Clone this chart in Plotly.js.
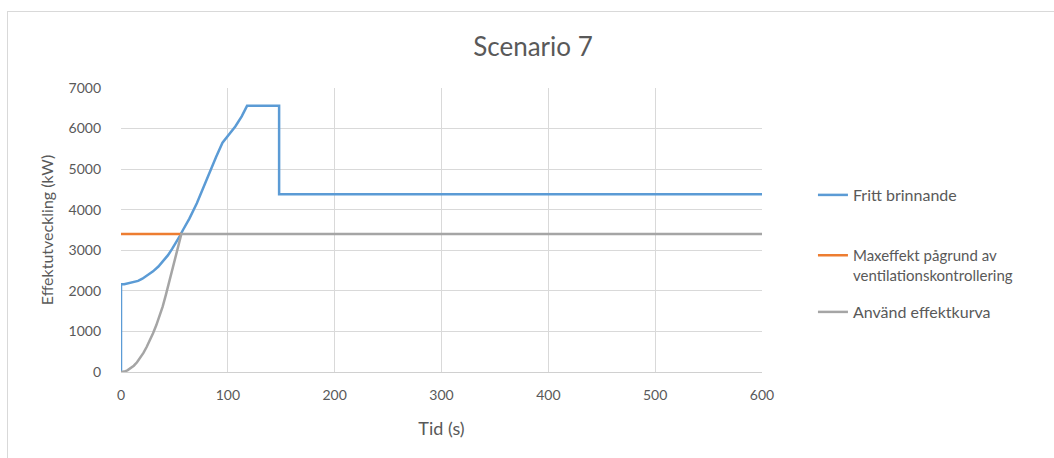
<!DOCTYPE html>
<html>
<head>
<meta charset="utf-8">
<script src="https://cdn.plot.ly/plotly-3.0.1.min.js"></script>
<style>
  html, body { margin: 0; padding: 0; background: #fff; overflow: hidden; }
  #wrap { position: relative; width: 1054px; height: 458px; }
  #chart { width: 1054px; height: 458px; }
  #frame { position: absolute; left: 7px; top: 11px; width: 1100px; height: 500px;
           border-left: 1px solid #d9d9d9; border-top: 1px solid #d9d9d9; pointer-events: none; }
</style>
</head>
<body>
<div id="wrap"><div id="chart"></div><div id="frame"></div></div>
<script>
// Data
const seriesNames = ["Fritt brinnande", "Maxeffekt pågrund av<br>ventilationskontrollering", "Använd effektkurva"];

const frittT = [0, 0, 3, 7, 12, 16, 20, 25, 30, 35, 40, 44, 48, 52, 55, 58, 64, 71, 77, 83, 89, 95, 101, 107, 113, 118, 148, 148, 600];
const frittV = [0, 2160, 2165, 2190, 2215, 2245, 2300, 2390, 2480, 2600, 2750, 2880, 3040, 3210, 3350, 3500, 3780, 4160, 4550, 4940, 5300, 5650, 5850, 6050, 6300, 6560, 6560, 4380, 4380];

const maxT = [0, 56.5];
const maxV = [3400, 3400];

const anvT = [0, 3, 6, 9, 12, 15, 18, 21, 24, 27, 30, 33, 36, 39, 42, 45, 48, 51, 54, 56.5, 600];
const anvV = [0, 10, 40, 90, 155, 240, 345, 470, 615, 775, 955, 1150, 1370, 1610, 1900, 2200, 2500, 2830, 3130, 3400, 3400];

const xTicks = [0, 100, 200, 300, 400, 500, 600];
const yTicks = [0, 1000, 2000, 3000, 4000, 5000, 6000, 7000];

const FONT = "Lato, 'Open Sans', sans-serif";
const TXT = "#595959";

const traces = [
  { x: frittT, y: frittV, name: seriesNames[0], mode: "lines", line: { color: "#5b9bd5", width: 2.5 }, legend: "legend" },
  { x: maxT, y: maxV, name: seriesNames[1], mode: "lines", line: { color: "#ed7d31", width: 2.5 }, legend: "legend2" },
  { x: anvT, y: anvV, name: seriesNames[2], mode: "lines", line: { color: "#a5a5a5", width: 2.5 }, legend: "legend3" }
];

const legBase = { xref: "container", yref: "container", x: 0.7713, xanchor: "left", yanchor: "middle",
                  font: { family: FONT, size: 16, color: TXT }, bgcolor: "rgba(0,0,0,0)", borderwidth: 0 };

const layout = {
  width: 1054, height: 458,
  margin: { l: 121, r: 292, t: 88, b: 86 },
  paper_bgcolor: "#ffffff", plot_bgcolor: "#ffffff",
  font: { family: FONT, color: TXT, size: 14 },
  title: { text: "Scenario 7", font: { family: FONT, size: 26, color: TXT },
           xref: "container", x: 0.5057, xanchor: "center", yref: "container", y: 0.897, yanchor: "middle" },
  xaxis: {
    range: [0, 600], tickvals: xTicks, ticktext: xTicks.map(String),
    showgrid: true, gridcolor: "#d9d9d9", gridwidth: 1,
    showline: true, linecolor: "#d0d0d0", linewidth: 1,
    zeroline: false, ticks: "", ticklabelstandoff: 10,
    tickfont: { family: FONT, size: 14, color: TXT },
    title: { text: "Tid (s)", font: { family: FONT, size: 18, color: TXT }, standoff: 20 }
  },
  yaxis: {
    range: [0, 7000], tickvals: yTicks, ticktext: yTicks.map(String),
    showgrid: true, gridcolor: "#d9d9d9", gridwidth: 1,
    showline: false, zeroline: false, ticks: "", ticklabelstandoff: 19,
    tickfont: { family: FONT, size: 14, color: TXT },
    title: { text: "Effektutveckling (kW)", font: { family: FONT, size: 16, color: TXT }, standoff: 10 }
  },
  showlegend: true,
  legend: Object.assign({}, legBase, { y: 1 - 195 / 458 }),
  legend2: Object.assign({}, legBase, { y: 1 - 265 / 458, valign: "top", font: { family: FONT, size: 15, color: TXT } }),
  legend3: Object.assign({}, legBase, { y: 1 - 312 / 458 })
};

Plotly.newPlot("chart", traces, layout, { displayModeBar: false, staticPlot: true });
</script>
</body>
</html>
